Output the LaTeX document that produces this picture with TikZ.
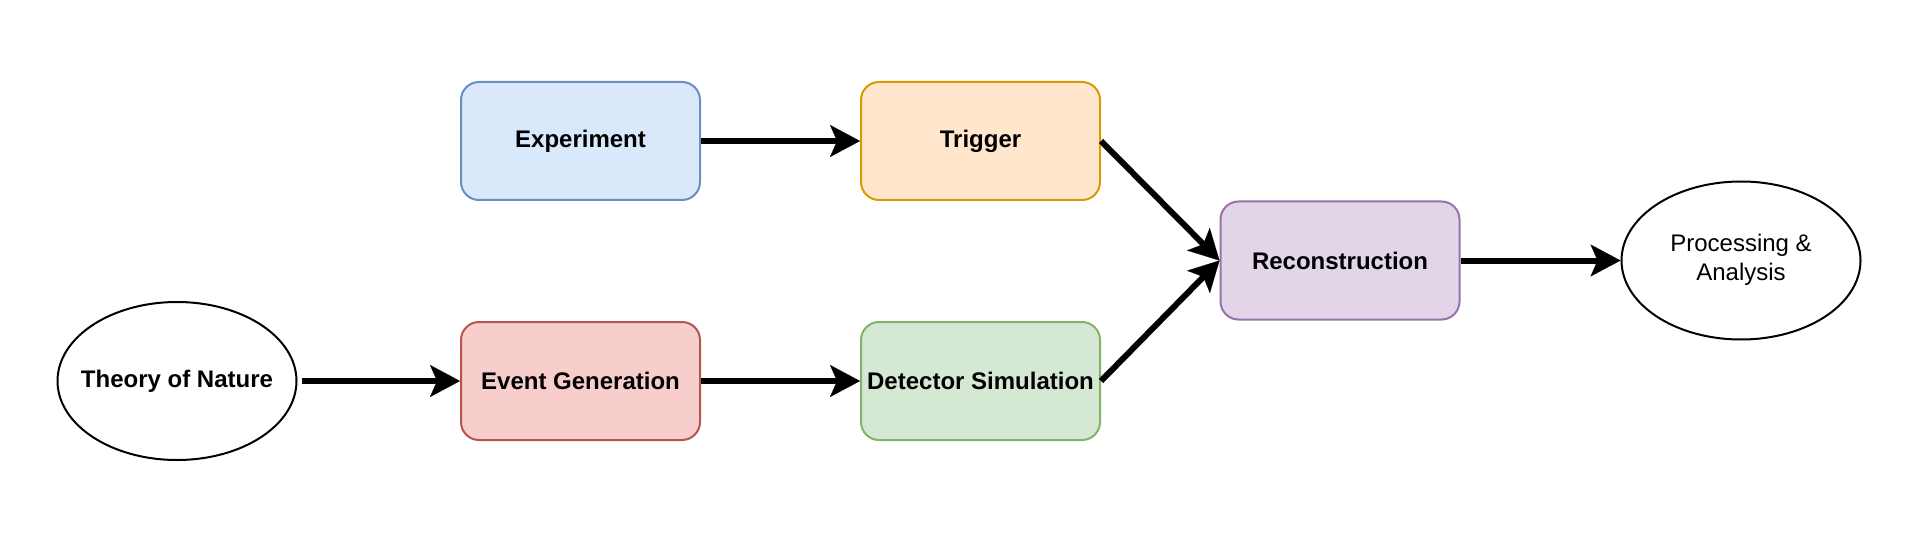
\documentclass[tikz,border=0pt]{standalone}
\usepackage{fontspec}
\setmainfont{Liberation Sans}
\usetikzlibrary{arrows.meta,shapes.geometric}
\definecolor{bluefill}{HTML}{DAE8FC}\definecolor{bluedraw}{HTML}{6C8EBF}
\definecolor{orangefill}{HTML}{FFE6CC}\definecolor{orangedraw}{HTML}{D79B00}
\definecolor{redfill}{HTML}{F8CECC}\definecolor{reddraw}{HTML}{B85450}
\definecolor{greenfill}{HTML}{D5E8D4}\definecolor{greendraw}{HTML}{82B366}
\definecolor{purplefill}{HTML}{E1D5E7}\definecolor{purpledraw}{HTML}{9673A6}
\tikzset{
  stagebox/.style={draw, line width=2pt, rounded corners=18pt, minimum width=239pt, minimum height=118pt, inner sep=0pt, font=\fontsize{24}{29}\selectfont\bfseries, align=center},
  oval/.style={draw, ellipse, line width=2pt, minimum width=239pt, minimum height=158pt, inner sep=0pt, font=\fontsize{24}{29}\selectfont},
  flow/.style={line width=6pt, -{Stealth[length=30pt,width=32pt,inset=7pt,line width=0.1pt]}}
}
\begin{document}
\begin{tikzpicture}[x=1pt,y=-1pt]
\useasboundingbox (0,0) rectangle (1924,548);
\node[stagebox, fill=bluefill, draw=bluedraw] (exp) at (580.5,141) {Experiment};
\node[stagebox, fill=orangefill, draw=orangedraw] (trig) at (980.5,141) {Trigger};
\node[stagebox, fill=redfill, draw=reddraw] (evgen) at (580.5,381) {Event Generation};
\node[stagebox, fill=greenfill, draw=greendraw] (detsim) at (980.5,381) {Detector Simulation};
\node[stagebox, fill=purplefill, draw=purpledraw] (reco) at (1340,260.5) {Reconstruction};
\node[oval] (theory) at (177,381) {\makebox[0pt]{\bfseries Theory of Nature}};
\node[oval] (proc) at (1741,260.5) {\makebox[0pt]{\begin{tabular}{@{}c@{}}Processing \&\\Analysis\end{tabular}}};
\draw[flow] (exp.east) -- (trig.west);
\draw[flow] (evgen.east) -- (detsim.west);
\draw[flow, shorten <=4pt] (theory.east) -- (evgen.west);
\draw[flow] (trig.east) -- (reco.west);
\draw[flow] (detsim.east) -- (reco.west);
\draw[flow] (reco.east) -- (proc.west);
\end{tikzpicture}
\end{document}
